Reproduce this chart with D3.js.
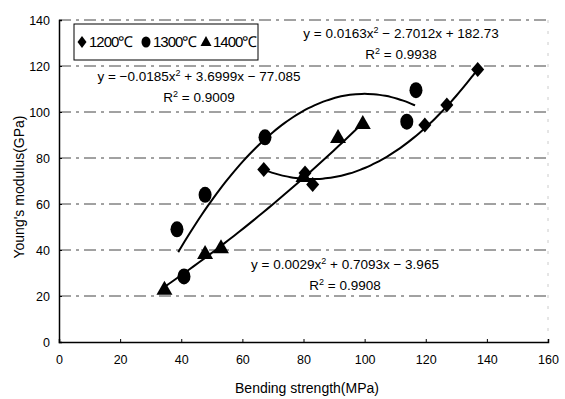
<!DOCTYPE html>
<html>
<head>
<meta charset="utf-8">
<script src="https://cdn.jsdelivr.net/npm/d3@7"></script>
<style>
  body { margin: 0; background: #fff; }
  text { font-family: "Liberation Sans", Arial, sans-serif; fill: #000; }
</style>
</head>
<body>
<div id="chart"></div>
<script>
// data
const pts1200 = [[67, 75], [80.5, 73.5], [83, 68.5], [119.7, 94.3], [126.9, 103], [137, 118.5]];
const pts1300 = [[38.6, 49], [47.8, 64], [40.9, 28.5], [67.4, 89], [113.8, 95.8], [116.8, 109.5]];
const pts1400 = [[34.5, 23], [47.8, 38.5], [53, 41], [80, 72], [91.3, 89], [99.4, 95]];

// trendline coefficients [a, b, c] for y = a x^2 + b x + c, and x range
const fit1200 = [0.0163, -2.7012, 182.73];
const fit1300 = [-0.0185, 3.6999, -77.085];
const fit1400 = [0.0029, 0.7093, -3.965];
const range1200 = [67, 137];
const range1300 = [39, 116.5];
const range1400 = [34.5, 99.4];

const xTicks = [0, 20, 40, 60, 80, 100, 120, 140, 160];
const yTicks = [0, 20, 40, 60, 80, 100, 120, 140];
const legendLabels = ["1200℃", "1300℃", "1400℃"];

const W = 565, H = 399;
const margin = { left: 59, right: 17, top: 20, bottom: 57 };

const svg = d3.select("#chart").append("svg")
  .attr("width", W).attr("height", H);

const x = d3.scaleLinear().domain([0, 160]).range([margin.left, W - margin.right]);
const y = d3.scaleLinear().domain([0, 140]).range([H - margin.bottom, margin.top]);

// grid lines
svg.append("g").selectAll("line")
  .data(yTicks.filter(d => d > 0))
  .join("line")
  .attr("x1", x(0)).attr("x2", x(160))
  .attr("y1", d => y(d)).attr("y2", d => y(d))
  .attr("stroke", "#444").attr("stroke-width", 1)
  .attr("stroke-dasharray", "12,5,3,5");

svg.append("line")
  .attr("x1", x(160)).attr("x2", x(160))
  .attr("y1", y(0)).attr("y2", y(140))
  .attr("stroke", "#ccc").attr("stroke-dasharray", "3,8");

// axes
const xAxis = svg.append("g")
  .attr("transform", `translate(0,${y(0)})`)
  .call(d3.axisBottom(x).tickValues(xTicks).tickSize(-3).tickPadding(13));
const yAxis = svg.append("g")
  .attr("transform", `translate(${x(0)},0)`)
  .call(d3.axisLeft(y).tickValues(yTicks).tickSize(-3).tickPadding(9));
[xAxis, yAxis].forEach(g => {
  g.select(".domain").attr("stroke", "#000").attr("stroke-width", 1.5);
  g.selectAll(".tick line").attr("stroke", "#000");
  g.selectAll("text").style("font-size", "12.5px").style("font-family", "Liberation Sans, Arial, sans-serif");
});

svg.append("text")
  .attr("x", 307).attr("y", 393)
  .attr("text-anchor", "middle")
  .style("font-size", "14px")
  .text("Bending strength(MPa)");
svg.append("text")
  .attr("transform", "translate(24,187) rotate(-90)")
  .attr("text-anchor", "middle")
  .style("font-size", "14px")
  .text("Young's modulus(GPa)");

// trendlines
const line = d3.line().x(d => x(d[0])).y(d => y(d[1])).curve(d3.curveBasis);
function trend(c, r) {
  return d3.range(r[0], r[1] + 0.001, (r[1] - r[0]) / 40)
    .map(v => [v, c[0] * v * v + c[1] * v + c[2]]);
}
[[fit1200, range1200], [fit1300, range1300], [fit1400, range1400]].forEach(([c, r]) => {
  svg.append("path")
    .datum(trend(c, r))
    .attr("fill", "none").attr("stroke", "#000").attr("stroke-width", 2)
    .attr("d", line);
});

// markers
const diamond = (w, h) => `M0,${-h}L${w},0L0,${h}L${-w},0Z`;
const tri = (w, h) => `M0,${-h * 0.6}L${w},${h * 0.4}L${-w},${h * 0.4}Z`;

svg.append("g").selectAll("path")
  .data(pts1200).join("path")
  .attr("transform", d => `translate(${x(d[0])},${y(d[1])})`)
  .attr("d", diamond(6.5, 7.5)).attr("fill", "#000");

svg.append("g").selectAll("ellipse")
  .data(pts1300).join("ellipse")
  .attr("cx", d => x(d[0])).attr("cy", d => y(d[1]))
  .attr("rx", 6.5).attr("ry", 8).attr("fill", "#000");

svg.append("g").selectAll("path")
  .data(pts1400).join("path")
  .attr("transform", d => `translate(${x(d[0])},${y(d[1])})`)
  .attr("d", tri(8, 14)).attr("fill", "#000");

// equations
function equation(xc, yc, a, b, rsq) {
  const t = svg.append("text").attr("x", xc).attr("y", yc)
    .attr("text-anchor", "middle").style("font-size", "13.5px");
  t.append("tspan").text(a);
  t.append("tspan").attr("dy", -5).style("font-size", "9px").text("2");
  t.append("tspan").attr("dy", 5).text(b);
  const r = svg.append("text").attr("x", xc).attr("y", yc + 21)
    .attr("text-anchor", "middle").style("font-size", "13.5px");
  r.append("tspan").text("R");
  r.append("tspan").attr("dy", -5).style("font-size", "9px").text("2");
  r.append("tspan").attr("dy", 5).text(" = " + rsq);
}
equation(401, 38, "y = 0.0163x", " − 2.7012x + 182.73", "0.9938");
equation(199, 81, "y = −0.0185x", " + 3.6999x − 77.085", "0.9009");
equation(345, 269, "y = 0.0029x", " + 0.7093x − 3.965", "0.9908");

// legend
const lg = svg.append("g");
lg.append("rect").attr("x", 74).attr("y", 24).attr("width", 184).attr("height", 36)
  .attr("fill", "#fff").attr("stroke", "#000").attr("stroke-width", 1);
const lx = [82, 146, 206];
lg.append("path").attr("transform", `translate(${lx[0]},42)`).attr("d", diamond(4.5, 6)).attr("fill", "#000");
lg.append("ellipse").attr("cx", lx[1]).attr("cy", 42).attr("rx", 4.5).attr("ry", 5.5).attr("fill", "#000");
lg.append("path").attr("transform", `translate(${lx[2]},42)`).attr("d", tri(5.5, 10)).attr("fill", "#000");
legendLabels.forEach((t, i) => {
  lg.append("text").attr("x", lx[i] + 7).attr("y", 47)
    .style("font-size", "15px").style("letter-spacing", "-1px").text(t);
});
</script>
</body>
</html>
